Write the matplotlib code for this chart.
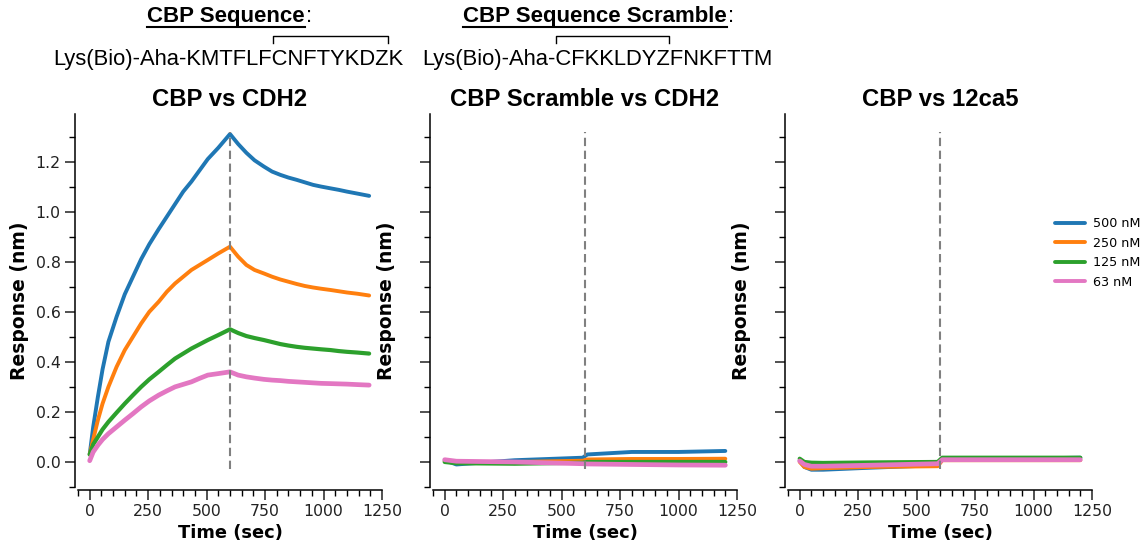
import matplotlib
matplotlib.use("Agg")
import matplotlib.pyplot as plt
from matplotlib.ticker import MultipleLocator
from matplotlib.lines import Line2D

# ---------------- data ----------------
concentrations = ["500 nM", "250 nM", "125 nM", "63 nM"]
colors = ["#1f77b4", "#ff7f0e", "#2ca02c", "#e377c2"]

time_cdh2 = [0, 15, 35, 55, 80, 115, 150, 185, 220, 255, 295, 330, 365, 400, 435, 470, 505, 550, 600,
             635, 670, 705, 745, 780, 815, 850, 885, 920, 955, 990, 1030, 1065, 1100, 1145, 1195]
cdh2_500 = [0.03, 0.14, 0.26, 0.37, 0.48, 0.58, 0.67, 0.74, 0.81, 0.87, 0.93, 0.98, 1.03, 1.08, 1.12, 1.165, 1.21, 1.255, 1.31,
            1.27, 1.235, 1.205, 1.18, 1.16, 1.147, 1.136, 1.127, 1.117, 1.107, 1.1, 1.093, 1.087, 1.08, 1.072, 1.063]
cdh2_250 = [0.03, 0.09, 0.167, 0.233, 0.30, 0.38, 0.447, 0.50, 0.553, 0.60, 0.64, 0.68, 0.713, 0.74, 0.767, 0.787, 0.807, 0.833, 0.86,
            0.82, 0.787, 0.767, 0.753, 0.74, 0.729, 0.72, 0.711, 0.703, 0.697, 0.692, 0.687, 0.682, 0.677, 0.672, 0.665]
cdh2_125 = [0.03, 0.07, 0.10, 0.13, 0.16, 0.197, 0.233, 0.267, 0.30, 0.33, 0.36, 0.387, 0.413, 0.433, 0.453, 0.47, 0.487, 0.507, 0.53,
            0.515, 0.503, 0.495, 0.487, 0.479, 0.471, 0.465, 0.46, 0.456, 0.453, 0.45, 0.447, 0.443, 0.44, 0.437, 0.433]
cdh2_63 = [0.005, 0.04, 0.067, 0.09, 0.113, 0.14, 0.167, 0.193, 0.22, 0.244, 0.267, 0.284, 0.30, 0.31, 0.32, 0.334, 0.347, 0.353, 0.36,
           0.347, 0.34, 0.335, 0.33, 0.327, 0.325, 0.322, 0.32, 0.318, 0.316, 0.314, 0.313, 0.312, 0.311, 0.309, 0.307]

time_scr = [0, 50, 300, 590, 610, 800, 1000, 1200]
scr_500 = [0.007, -0.01, 0.007, 0.017, 0.03, 0.04, 0.04, 0.044]
scr_250 = [0.003, -0.002, 0.0, 0.005, 0.01, 0.012, 0.012, 0.013]
scr_125 = [0.0, -0.005, -0.007, -0.003, 0.0, 0.0, 0.0, 0.0]
scr_63 = [0.009, 0.003, 0.0, -0.007, -0.008, -0.01, -0.012, -0.013]

time_12ca5 = [0, 20, 50, 100, 300, 590, 610, 1200]
ca_500 = [0.005, -0.02, -0.031, -0.031, -0.023, -0.013, 0.009, 0.017]
ca_250 = [0.0, -0.02, -0.027, -0.025, -0.02, -0.017, 0.007, 0.007]
ca_125 = [0.013, 0.0, -0.003, -0.004, -0.002, 0.0, 0.017, 0.017]
ca_63 = [0.004, -0.01, -0.017, -0.017, -0.013, -0.007, 0.009, 0.009]

panel_titles = ["CBP vs CDH2", "CBP Scramble vs CDH2", "CBP vs 12ca5"]
injection_time = 600
dash_span = [-0.03, 1.32]

panels = [
    (time_cdh2, [cdh2_500, cdh2_250, cdh2_125, cdh2_63]),
    (time_scr, [scr_500, scr_250, scr_125, scr_63]),
    (time_12ca5, [ca_500, ca_250, ca_125, ca_63]),
]
line_widths = [2.8, 2.8, 3.0, 3.4]

# ---------------- figure ----------------
W, H = 1146, 545
fig = plt.figure(figsize=(W / 100, H / 100), dpi=100)
fig.patch.set_facecolor("white")

lefts_px = [78, 433, 788]
ax_w_px = 304
ax_top_px, ax_bot_px = 114, 487

axes = []
for i, (t, series) in enumerate(panels):
    ax = fig.add_axes([lefts_px[i] / W, 1 - ax_bot_px / H, ax_w_px / W, (ax_bot_px - ax_top_px) / H])
    axes.append(ax)
    for s, c, lab, lw in zip(series, colors, concentrations, line_widths):
        ax.plot(t, s, color=c, lw=lw, label=lab, solid_joinstyle="round", solid_capstyle="round")
    ax.vlines(injection_time, dash_span[0], dash_span[1], colors="#808080",
              linestyles=(0, (4, 2.2)), lw=1.5, zorder=5)
    ax.set_xlim(-50, 1250)
    ax.set_ylim(-0.1, 1.39)
    ax.xaxis.set_major_locator(MultipleLocator(250))
    ax.xaxis.set_minor_locator(MultipleLocator(50))
    ax.set_yticks([0.0, 0.2, 0.4, 0.6, 0.8, 1.0, 1.2])
    ax.yaxis.set_minor_locator(MultipleLocator(0.1))
    for side in ["top", "right"]:
        ax.spines[side].set_visible(False)
    for side in ["left", "bottom"]:
        ax.spines[side].set_position(("outward", 2))
        ax.spines[side].set_linewidth(1.1)
    ax.tick_params(which="major", length=7, width=1.1, labelsize=11.3, colors="#222222")
    ax.tick_params(which="minor", length=4.5, width=1.0)
    ax.set_xlabel("Time (sec)", fontsize=12.9, fontweight="bold", labelpad=3)
    ax.set_ylabel("Response (nm)", fontsize=13.5, fontweight="bold", labelpad=5)
    ax.set_title(panel_titles[i], fontsize=17.2, fontweight="bold",
                 family="Liberation Sans", pad=6)
    if i > 0:
        ax.set_yticklabels([])
        ax.yaxis.labelpad = 14

leg = axes[2].legend(loc="center left", bbox_to_anchor=(1049 / W, 1 - 253 / H),
                     bbox_transform=fig.transFigure, frameon=False, fontsize=9.2,
                     handlelength=2.3, handletextpad=0.65, labelspacing=0.5, borderpad=0)
for h in leg.get_lines():
    h.set_linewidth(2.8)

# ---------------- header texts ----------------
renderer = fig.canvas.get_renderer()
seq_font = dict(fontsize=15.8, family="Liberation Sans", va="baseline", ha="left")
head_font = dict(fontsize=16, family="Liberation Sans", fontweight="bold", va="baseline", ha="left")


def px_width(text, props):
    tmp = fig.text(0, 0, text, **props)
    w = tmp.get_window_extent(renderer=renderer).width
    tmp.remove()
    return w


def header(x_px, base_px, title):
    t = fig.text(x_px / W, 1 - base_px / H, title, **head_font)
    w = t.get_window_extent(renderer=renderer).width
    fig.add_artist(Line2D([x_px / W, (x_px + w) / W], [1 - (base_px + 5) / H] * 2,
                          color="black", lw=1.5, transform=fig.transFigure))
    fig.text((x_px + w + 1) / W, 1 - base_px / H, ":", **dict(head_font, fontweight="normal"))


def sequence(x_px, base_px, prefix, bracketed, suffix):
    fig.text(x_px / W, 1 - base_px / H, prefix + bracketed + suffix, **seq_font)
    x1 = x_px + px_width(prefix, seq_font) + 1
    x2 = x_px + px_width(prefix + bracketed, seq_font) - 1
    ytop = 1 - 36 / H
    ybot = 1 - 42.5 / H
    fig.add_artist(Line2D([x1 / W, x1 / W, x2 / W, x2 / W], [ybot, ytop, ytop, ybot],
                          color="black", lw=1.0, transform=fig.transFigure))


header(147, 22, "CBP Sequence")
sequence(53, 65, "Lys(Bio)-Aha-KMTFLF", "CNFTYKDZ", "K")
header(463, 22, "CBP Sequence Scramble")
sequence(422, 65, "Lys(Bio)-Aha-", "CFKKLDYZ", "FNKFTTM")

fig.savefig("out.png", dpi=100, facecolor="white")
